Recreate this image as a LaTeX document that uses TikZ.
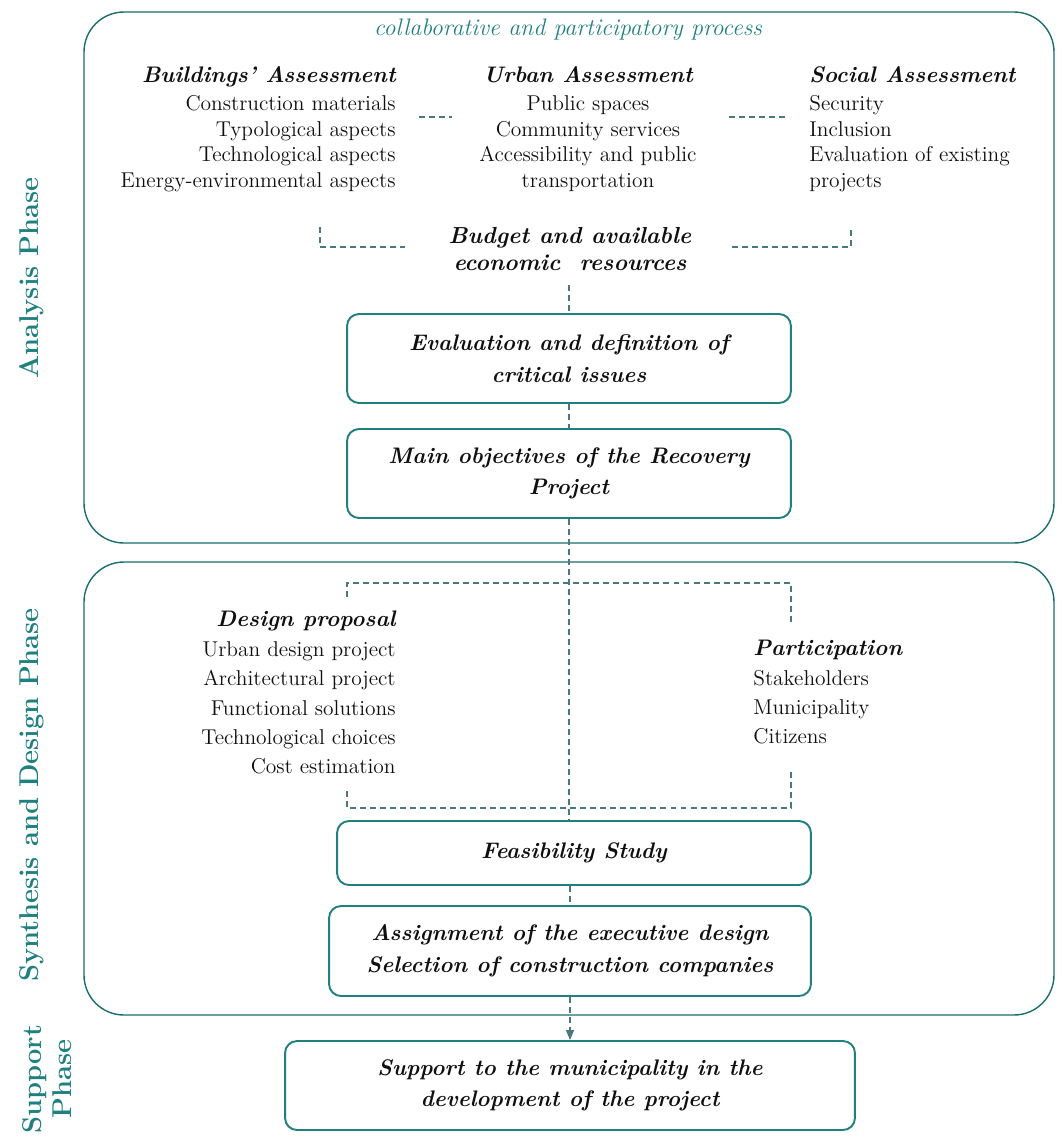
\documentclass[tikz,border=0pt]{standalone}
\usetikzlibrary{arrows.meta}
\definecolor{phasecol}{RGB}{32,128,128}
\definecolor{linkcol}{RGB}{75,120,125}
\definecolor{inkcol}{RGB}{15,15,15}
\newcommand\hd[1]{{\fontsize{12.8}{15}\selectfont\bfseries\itshape #1}}
\begin{document}
\begin{tikzpicture}[x=0.02cm,y=-0.02cm,
  phase/.style={rotate=90,text=phasecol,font=\fontsize{15.5}{17}\selectfont\bfseries,align=center},
  frame/.style={draw=phasecol!85!black,line width=0.8pt,rounded corners=0.8cm},
  stepbox/.style={draw=phasecol,line width=1.1pt,rounded corners=0.24cm,align=center,text=inkcol,
    font=\fontsize{12.8}{18}\selectfont\bfseries\itshape},
  topic/.style={inner sep=0pt,text=inkcol,font=\fontsize{12.2}{14.5}\selectfont},
  link/.style={draw=linkcol,line width=0.6pt,dash pattern=on 3.4pt off 2.3pt}]
\useasboundingbox (0,0) rectangle (1062,1137);
% phase frames and their labels
\draw[frame] (84,12) rectangle (1054,543);
\draw[frame] (84,562) rectangle (1054,1015);
\node[phase] (ana) at (32,278) {Analysis Phase};
\node[phase] (syn) at (32,795) {Synthesis and Design Phase};
\node[phase,inner sep=1pt] (sup) at (47,1079) {Support\\Phase};

% analysis
\node[text=phasecol,font=\fontsize{13.6}{15}\selectfont\itshape] (collab) at (568,30)
  {collaborative and participatory process};
\node[topic,anchor=north east,align=right] (bldg) at (396,66)
  {\hd{Buildings' Assessment}\\[0.06cm] Construction materials\\ Typological aspects\\
   Technological aspects\\ Energy-environmental aspects};
\node[topic,anchor=north,align=center] (urban) at (588,66)
  {\hd{Urban Assessment}\\[0.06cm] Public spaces\\ Community services\\
   Accessibility and public\\ transportation};
\node[topic,anchor=north west,align=left] (social) at (809,66)
  {\hd{Social Assessment}\\[0.06cm] Security\\ Inclusion\\
   Evaluation of existing\\ projects};
\node[topic,align=center,font=\fontsize{13.2}{15.3}\selectfont\bfseries\itshape] (budget) at (570,249)
  {Budget and available\\ economic~ resources};
\node[stepbox,minimum width=8.88cm,minimum height=1.78cm] (eval) at (569,358.5)
  {Evaluation and definition of\\ critical issues};
\node[stepbox,minimum width=8.88cm,minimum height=1.78cm] (obj) at (569,473.5)
  {Main objectives of the Recovery\\ Project};

\coordinate (ba1) at (419,117);
\coordinate (ba2) at (452,117);
\coordinate (ua1) at (729,117);
\coordinate (ua2) at (785,117);
\draw[link] (ba1) -- (ba2);
\draw[link] (ua1) -- (ua2);
\coordinate (bl1) at (320,227);
\coordinate (bl2) at (320,247);
\coordinate (bl3) at (405,247);
\coordinate (br1) at (732,247);
\coordinate (br2) at (851,247);
\coordinate (br3) at (851,227);
\draw[link] (bl1) -- (bl2) -- (bl3);
\draw[link] (br1) -- (br2) -- (br3);
\draw[link,shorten <=8pt] (budget.south -| eval.north) -- (eval.north);
\draw[link] (eval.south) -- (obj.north);

% synthesis and design
\node[topic,anchor=north east,align=right,font=\fontsize{12.2}{16.7}\selectfont] (design) at (396,611)
  {\hd{Design proposal}\\ Urban design project\\ Architectural project\\
   Functional solutions\\ Technological choices\\ Cost estimation};
\node[topic,anchor=north west,align=left,font=\fontsize{12.2}{16.7}\selectfont] (part) at (753,640)
  {\hd{Participation}\\ Stakeholders\\ Municipality\\ Citizens};
\node[stepbox,minimum width=9.48cm,minimum height=1.28cm] (feas) at (574,853) {Feasibility Study};
\node[stepbox,minimum width=9.64cm,minimum height=1.8cm] (assign) at (570,951)
  {Assignment of the executive design\\ Selection of construction companies};

\coordinate (dtl) at (347,583);
\coordinate (dtr) at (791,583);
\coordinate (dbl) at (347,808);
\coordinate (dbr) at (791,808);
\coordinate (dl1) at (347,597);
\coordinate (dr1) at (791,624);
\coordinate (dl2) at (347,791);
\coordinate (dr2) at (791,771);
\draw[link] (dl1) -- (dtl) -- (dtr) -- (dr1);
\draw[link] (dl2) -- (dbl) -- (dbr) -- (dr2);
\draw[link] (obj.south) -- (obj.south |- feas.north);
\draw[link] (feas.south -| assign.north) -- (assign.north);

% support
\node[stepbox,minimum width=11.4cm,minimum height=1.78cm] (supp) at (570,1085.5)
  {Support to the municipality in the\\ development of the project};
\draw[link,-{Triangle[length=0.2cm,width=0.16cm]}] (assign.south) -- (supp.north);
\end{tikzpicture}
\end{document}
